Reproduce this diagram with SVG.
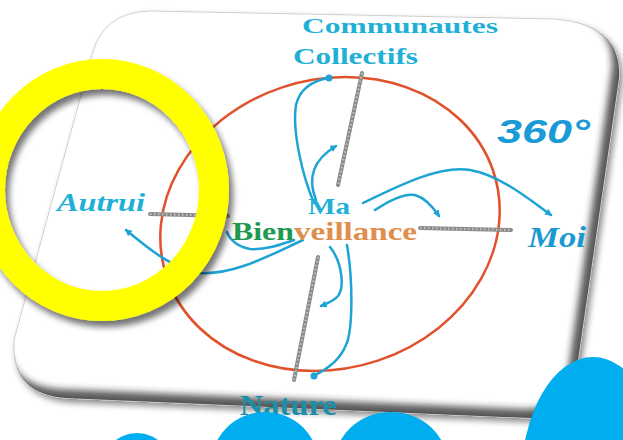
<svg xmlns="http://www.w3.org/2000/svg" width="623" height="440" viewBox="0 0 623 440">
<defs>
<filter id="cardShadow" x="-10%" y="-10%" width="125%" height="130%">
<feDropShadow dx="3" dy="4" stdDeviation="3" flood-color="#000" flood-opacity="0.45"/>
</filter>
<filter id="bevelBlur" x="-10%" y="-10%" width="120%" height="120%">
<feGaussianBlur stdDeviation="3.5"/>
</filter>
<filter id="ringShadow" x="-20%" y="-20%" width="150%" height="150%">
<feDropShadow dx="4" dy="6" stdDeviation="3" flood-color="#000" flood-opacity="0.55"/>
</filter>
<filter id="soft"><feGaussianBlur stdDeviation="0.5"/></filter>
<clipPath id="cardClip">
<path d="M 150,11 L 555,19 Q 622,24 619,78 L 578,360 Q 572,420 530,418 L 65,398 Q 10,393 14,340 L 92,55 Q 103,12 150,11 Z"/>
</clipPath>
<marker id="arr" viewBox="0 0 10 10" refX="8" refY="5" markerWidth="7" markerHeight="7" markerUnits="userSpaceOnUse" orient="auto">
<path d="M0,0 L10,5 L0,10 z" fill="#1ea4d4"/>
</marker>
<style>
.lbl{font-family:"Liberation Serif","Times New Roman",serif;font-weight:bold;fill:#1fb0d8}
.it{font-style:italic}
.curve{fill:none;stroke:#1ea4d4;stroke-width:2.5;stroke-linecap:round}
.axis{stroke:#8a8a8a;stroke-width:4;stroke-linecap:round}
.bead{stroke:#c4c4c4;stroke-width:2;stroke-dasharray:1.5 2.5}
.blob{fill:#00adef}
</style>
</defs>
<rect width="623" height="440" fill="#fff"/>

<g id="card">
<path d="M 150,11 L 555,19 Q 622,24 619,78 L 578,360 Q 572,420 530,418 L 65,398 Q 10,393 14,340 L 92,55 Q 103,12 150,11 Z" fill="#fff" stroke="#cfcfcf" stroke-width="1" filter="url(#cardShadow)"/>
<g clip-path="url(#cardClip)">
<path fill-rule="evenodd" fill="#222" opacity="0.75" filter="url(#bevelBlur)" d="M -50,-50 H 700 V 500 H -50 Z M 150,11 L 555,19 Q 622,24 619,78 L 578,360 Q 572,420 530,418 L 65,398 Q 10,393 14,340 L 92,55 Q 103,12 150,11 Z" transform="translate(-7,-9)"/>
</g>
</g>

<g id="circle">
<ellipse cx="0" cy="0" rx="169" ry="147" transform="translate(330,224) skewX(-6)" fill="none" stroke="#e0512c" stroke-width="2.5"/>
</g>

<g id="connectors">
<line class="axis" x1="362" y1="73" x2="338" y2="185"/>
<line class="bead" x1="362" y1="73" x2="338" y2="185"/>
<line class="axis" x1="318" y1="257" x2="294" y2="380"/>
<line class="bead" x1="318" y1="257" x2="294" y2="380"/>
<line class="axis" x1="150" y1="214" x2="228" y2="216"/>
<line class="bead" x1="150" y1="214" x2="228" y2="216"/>
<line class="axis" x1="420" y1="228" x2="511" y2="230"/>
<line class="bead" x1="420" y1="228" x2="511" y2="230"/>

<path class="curve" d="M 314,203 C 302,175 292,130 296,105 C 300,88 312,81 328,78"/>
<circle cx="329" cy="78" r="3.5" fill="#1ea4d4"/>
<path class="curve" d="M 316,200 C 306,175 316,158 336,146" marker-end="url(#arr)"/>
<path class="curve" d="M 363,203 C 400,185 440,165 470,170 C 500,175 530,200 551,215" marker-end="url(#arr)"/>
<path class="curve" d="M 375,210 C 390,200 405,193 415,195 C 425,198 433,207 439,216" marker-end="url(#arr)"/>
<path class="curve" d="M 303,240 C 270,255 235,275 200,273 C 175,270 150,250 126,230" marker-end="url(#arr)"/>
<path class="curve" d="M 294,240 C 280,245 265,250 250,249 C 238,247 230,240 227,232"/>
<path class="curve" d="M 330,247 C 342,262 346,290 336,298 C 331,302 326,304 321,306" marker-end="url(#arr)"/>
<path class="curve" d="M 347,245 C 353,280 353,330 346,345 C 340,360 326,370 313,376"/>
<circle cx="314" cy="376" r="3.5" fill="#1ea4d4"/>
</g>

<g id="node-communautes">
<text class="lbl" x="302" y="33" font-size="21" textLength="196" lengthAdjust="spacingAndGlyphs" fill="#2aaccc">Communautes</text>
<text class="lbl" x="293" y="64" font-size="23" textLength="125" lengthAdjust="spacingAndGlyphs" fill="#2aaccc">Collectifs</text>
</g>
<g id="node-360">
<text x="497" y="143" font-family="Liberation Sans, Arial, sans-serif" font-weight="bold" font-style="italic" font-size="34" textLength="93" lengthAdjust="spacingAndGlyphs" fill="#1a9ad6">360°</text>
</g>
<g id="node-autrui">
<text class="lbl it" x="57" y="211" font-size="26" textLength="88" lengthAdjust="spacingAndGlyphs">Autrui</text>
</g>
<g id="node-ma-bienveillance">
<text class="lbl" x="308" y="214" font-size="24" textLength="42" lengthAdjust="spacingAndGlyphs">Ma</text>
<text class="lbl" x="232" y="240" font-size="26" textLength="62" lengthAdjust="spacingAndGlyphs" style="fill:#1e9a50">Bien</text>
<text class="lbl" x="294" y="240" font-size="26" textLength="123" lengthAdjust="spacingAndGlyphs" style="fill:#e08e4c">veillance</text>
</g>
<g id="node-moi">
<text class="lbl it" x="528" y="247" font-size="30" textLength="58" lengthAdjust="spacingAndGlyphs" style="fill:#1a9ad0">Moi</text>
</g>
<g id="node-nature">
<text class="lbl" x="240" y="415" font-size="30" textLength="97" lengthAdjust="spacingAndGlyphs" style="fill:#1a8ea8" filter="url(#soft)">Nature</text>
</g>

<g id="yellow-ring">
<ellipse cx="102" cy="190" rx="112" ry="116" fill="none" stroke="#ffff00" stroke-width="30" filter="url(#ringShadow)"/>
</g>

<g id="blobs">
<ellipse class="blob" cx="137" cy="475" rx="38" ry="42"/>
<ellipse class="blob" cx="265" cy="465" rx="54" ry="53"/>
<ellipse class="blob" cx="391" cy="465" rx="57" ry="53"/>
<ellipse class="blob" cx="593" cy="482" rx="72" ry="125"/>
</g>
</svg>
